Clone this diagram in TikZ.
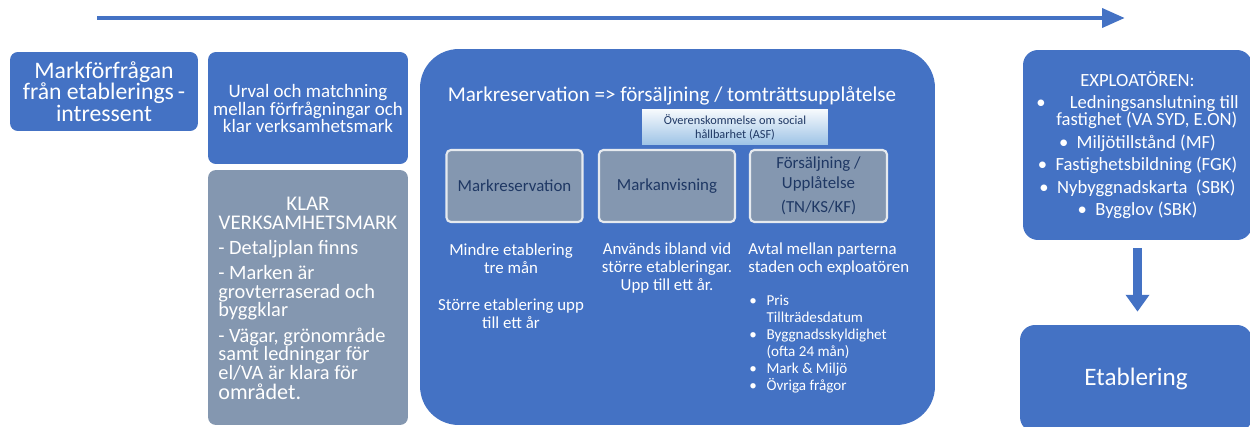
\documentclass[tikz,border=0pt]{standalone}
\usepackage{fontspec}
\setmainfont{Carlito}
\usetikzlibrary{arrows.meta}
\definecolor{blaa}{HTML}{4472C4}
\definecolor{graa}{HTML}{8497B0}
\definecolor{marin}{HTML}{1F3864}
\definecolor{ljusblaa}{HTML}{9DC3E6}

\begin{document}
\begin{tikzpicture}[x=0.02cm,y=-0.02cm,
   ruta/.style={fill=blaa,rounded corners=4.5pt,text=white,align=center,inner sep=2pt},
   gruta/.style={fill=graa,draw=white!80!graa,line width=1.2pt,rounded corners=2.5pt,text=marin,align=center,
      minimum width=2.72cm,minimum height=1.44cm,font=\fontsize{9.6}{11}\selectfont},
   vit/.style={text=white,inner sep=0pt,font=\fontsize{9.6}{10.2}\selectfont}]
   \clip (0,0) rectangle (1250,426);

   \coordinate (pil1) at (97,18);
   \coordinate (pil2) at (1125,18);
   \draw[blaa,line width=2.8pt,-{Triangle[length=13pt,width=10.5pt]}] (pil1) -- (pil2);

   \node[ruta,minimum width=3.76cm,minimum height=1.58cm,font=\fontsize{13.5}{12.2}\selectfont] (forfragan) at (104,91.5)
      {Markförfrågan\\från etablerings\,-\\intressent};
   \node[ruta,minimum width=4cm,minimum height=2.24cm,font=\fontsize{10.8}{9.4}\selectfont] (urval) at (308,108)
      {Urval och matchning\\mellan förfrågningar och\\klar verksamhetsmark};
   \node[ruta,fill=graa,minimum width=4cm,minimum height=5.1cm] (klar) at (308,297.5) {};
   \node[vit,align=center,font=\fontsize{11.9}{10.8}\selectfont] (klarrubrik) at (308,213) {KLAR\\VERKSAMHETSMARK};
   \node[vit,align=left,anchor=north west,font=\fontsize{11.6}{10.5}\selectfont] (klarlista) at (218,240)
      {- Detaljplan finns\\[4pt] - Marken är\\grovterraserad och\\byggklar\\[4pt] - Vägar, grönområde\\samt ledningar för\\el/VA är klara för\\[1pt]{\fontsize{12.6}{12}\selectfont området.}};

   \node[ruta,rounded corners=22pt,minimum width=10.3cm,minimum height=7.52cm] (stor) at (677.5,237) {};
   \node[vit,font=\fontsize{12}{12}\selectfont] (rubrik) at (672,96) {Markreservation => försäljning / tomträttsupplåtelse};
   \node[top color=white!92!ljusblaa,bottom color=ljusblaa,minimum width=3.72cm,minimum height=0.72cm,inner sep=0pt,
      text=marin,align=center,font=\fontsize{7}{8}\selectfont] (asf) at (735,127) {Överenskommelse om social\\hållbarhet (ASF)};
   \node[gruta] (reservation) at (514.5,186) {Markreservation};
   \node[gruta] (anvisning) at (667,186) {Markanvisning};
   \node[gruta,minimum width=2.74cm] (forsaljning) at (818.5,186) {Försäljning /\\Upplåtelse\\[3pt](TN/KS/KF)};

   \node[vit,align=center] (mindre) at (511,259) {Mindre etablering\\tre mån};
   \node[vit,align=center] (storre) at (511,314) {Större etablering upp\\till ett år};
   \node[vit,align=center] (anvands) at (667,268) {Används ibland vid\\större etableringar.\\Upp till ett år.};
   \node[vit,align=left,anchor=west] (avtal) at (748,259) {Avtal mellan parterna\\staden och exploatören};
   \node[vit,anchor=west,font=\fontsize{8.6}{9.6}\selectfont] (villkor) at (749,344.5)
      {\begin{tabular}{@{}l@{\hspace{5.5pt}}l@{}}
       \textbullet & Pris\\
                   & Tillträdesdatum\\
       \textbullet & Byggnadsskyldighet\\
                   & (ofta 24 mån)\\
       \textbullet & Mark \& Miljö\\
       \textbullet & Övriga frågor
       \end{tabular}};

   \node[ruta,rounded corners=8.5pt,minimum width=4.58cm,minimum height=3.8cm,font=\fontsize{10.6}{9.8}\selectfont] (exploatoren) at (1137.5,145)
      {EXPLOATÖREN:\\[3pt]
       \textbullet\hspace{1.3em}Ledningsanslutning till\\
       \hspace{1em}fastighet (VA SYD, E.ON)\\[3pt]
       \textbullet\ \ Miljötillstånd (MF)\\[3pt]
       \textbullet\ \ Fastighetsbildning (FGK)\\[3pt]
       \textbullet\ \ Nybyggnadskarta\ \ (SBK)\\[3pt]
       \textbullet\ \ Bygglov (SBK)};
   \node[ruta,rounded corners=8.5pt,minimum width=4.64cm,minimum height=2.14cm,font=\fontsize{14.3}{14}\selectfont] (etablering) at (1136,378.5)
      {Etablering};

   \draw[blaa,line width=5pt,shorten <=4.5pt,shorten >=7.4pt,-{Triangle[length=9.6pt,width=13pt]}]
      (exploatoren.south) -- (exploatoren.south |- etablering.north);
\end{tikzpicture}
\end{document}
